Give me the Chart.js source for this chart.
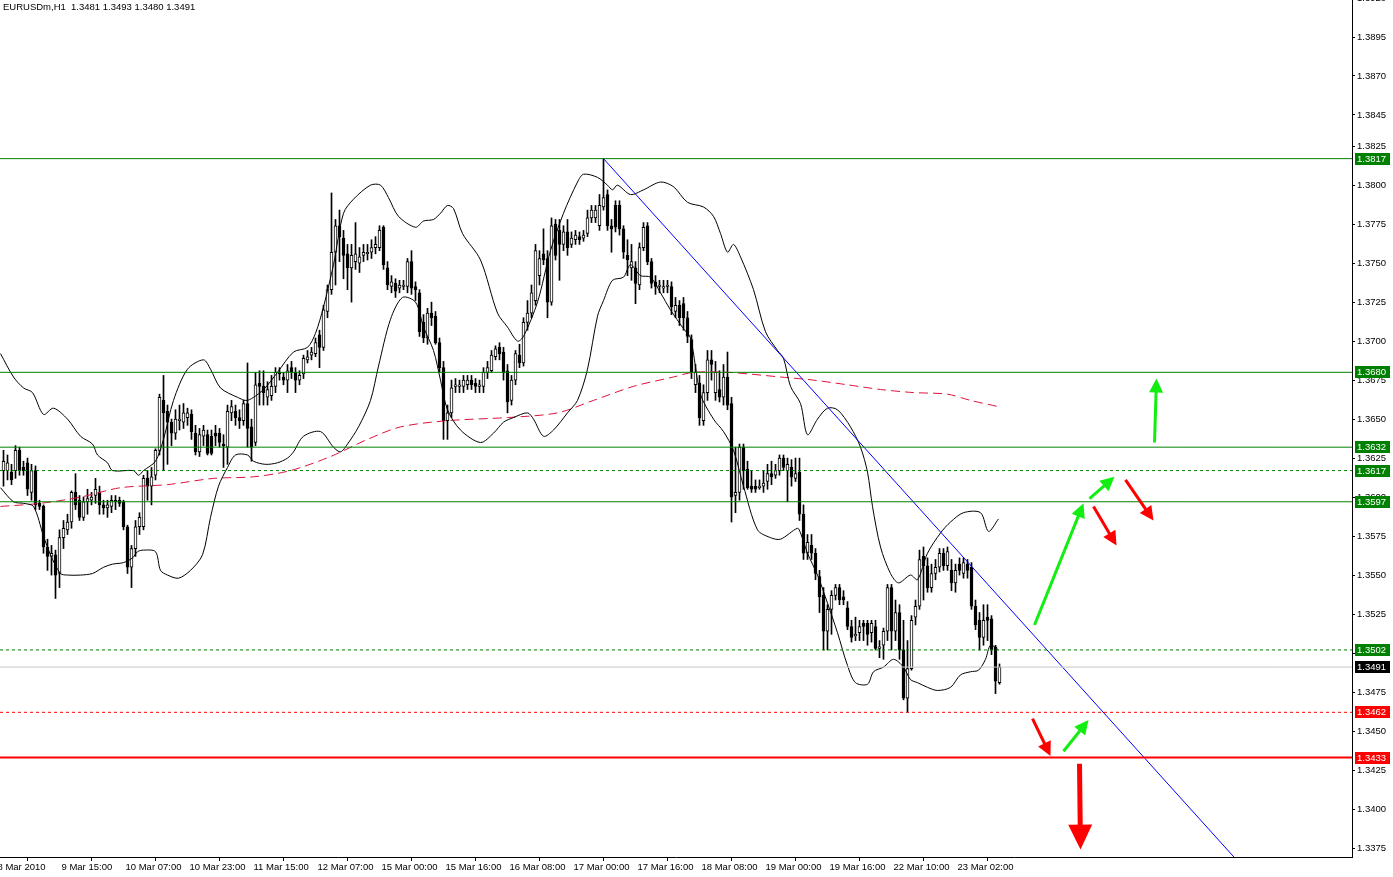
<!DOCTYPE html>
<html>
<head>
<meta charset="utf-8">
<title>EURUSDm,H1</title>
<script src="https://cdn.jsdelivr.net/npm/chart.js@4.4.1/dist/chart.umd.min.js"></script>
<style>
  html, body { margin: 0; padding: 0; background: #fff; }
  canvas { display: block; }
</style>
</head>
<body>
<canvas id="priceChart" width="1393" height="877"></canvas>
<script>
const symbol = 'EURUSDm';
const timeframe = 'H1';

// hourly candles, oldest first (bar index 0..249)
const opens = [
  1.3617,1.3617,1.3616,1.3617,1.3630,1.3619,1.3622,1.3603,1.3617,1.3596,
  1.3594,1.3568,1.3562,1.3563,1.3551,1.3574,1.3579,1.3584,1.3603,1.3598,
  1.3587,1.3597,1.3598,1.3601,1.3603,1.3595,1.3593,1.3594,1.3598,1.3598,
  1.3597,1.3581,1.3555,1.3567,1.3581,1.3581,1.3612,1.3607,1.3614,1.3630,
  1.3662,1.3655,1.3648,1.3641,1.3649,1.3648,1.3651,1.3653,1.3641,1.3629,
  1.3639,1.3640,1.3639,1.3641,1.3641,1.3634,1.3632,1.3654,1.3655,1.3651,
  1.3649,1.3660,1.3645,1.3635,1.3673,1.3671,1.3664,1.3665,1.3671,1.3680,
  1.3677,1.3675,1.3683,1.3680,1.3675,1.3679,1.3688,1.3691,1.3692,1.3704,
  1.3696,1.3719,1.3733,1.3757,1.3774,1.3766,1.3756,1.3747,1.3751,1.3750,
  1.3755,1.3756,1.3757,1.3760,1.3760,1.3773,1.3747,1.3735,1.3737,1.3734,
  1.3735,1.3735,1.3751,1.3735,1.3731,1.3712,1.3702,1.3718,1.3716,1.3699,
  1.3683,1.3649,1.3654,1.3671,1.3671,1.3671,1.3672,1.3675,1.3673,1.3671,
  1.3671,1.3680,1.3681,1.3690,1.3696,1.3693,1.3681,1.3662,1.3675,1.3691,
  1.3686,1.3712,1.3718,1.3726,1.3742,1.3756,1.3753,1.3725,1.3775,1.3771,
  1.3762,1.3770,1.3762,1.3765,1.3767,1.3766,1.3769,1.3779,1.3779,1.3774,
  1.3786,1.3794,1.3774,1.3787,1.3787,1.3772,1.3755,1.3747,1.3747,1.3736,
  1.3760,1.3774,1.3751,1.3738,1.3735,1.3734,1.3735,1.3735,1.3719,1.3723,
  1.3724,1.3715,1.3701,1.3672,1.3673,1.3649,1.3667,1.3688,1.3667,1.3669,
  1.3664,1.3677,1.3660,1.3601,1.3603,1.3632,1.3618,1.3607,1.3607,1.3606,
  1.3607,1.3610,1.3615,1.3614,1.3617,1.3625,1.3617,1.3619,1.3612,1.3616,
  1.3589,1.3564,1.3569,1.3564,1.3549,1.3537,1.3514,1.3528,1.3537,1.3542,
  1.3536,1.3529,1.3517,1.3511,1.3513,1.3519,1.3519,1.3513,1.3517,1.3503,
  1.3505,1.3514,1.3542,1.3514,1.3526,1.3502,1.3471,1.3490,1.3523,1.3530,
  1.3562,1.3556,1.3542,1.3551,1.3555,1.3564,1.3556,1.3553,1.3545,1.3557,
  1.3551,1.3557,1.3555,1.3530,1.3521,1.3510,1.3523,1.3522,1.3504,1.3481
];
const highs = [
  1.3630,1.3627,1.3621,1.3633,1.3632,1.3623,1.3625,1.3621,1.3620,1.3598,
  1.3595,1.3573,1.3569,1.3566,1.3579,1.3585,1.3589,1.3604,1.3615,1.3601,
  1.3600,1.3605,1.3603,1.3612,1.3607,1.3598,1.3598,1.3601,1.3601,1.3600,
  1.3598,1.3582,1.3569,1.3585,1.3590,1.3614,1.3617,1.3619,1.3631,1.3666,
  1.3678,1.3659,1.3650,1.3656,1.3659,1.3660,1.3657,1.3656,1.3646,1.3644,
  1.3646,1.3643,1.3643,1.3646,1.3644,1.3640,1.3659,1.3662,1.3659,1.3656,
  1.3662,1.3686,1.3650,1.3680,1.3681,1.3681,1.3674,1.3678,1.3683,1.3683,
  1.3680,1.3685,1.3687,1.3683,1.3681,1.3691,1.3694,1.3696,1.3702,1.3707,
  1.3723,1.3736,1.3795,1.3778,1.3784,1.3771,1.3762,1.3762,1.3776,1.3760,
  1.3762,1.3762,1.3765,1.3767,1.3774,1.3774,1.3751,1.3742,1.3740,1.3739,
  1.3739,1.3753,1.3758,1.3738,1.3733,1.3717,1.3721,1.3725,1.3719,1.3702,
  1.3687,1.3659,1.3675,1.3676,1.3675,1.3678,1.3678,1.3678,1.3676,1.3675,
  1.3683,1.3687,1.3694,1.3697,1.3699,1.3696,1.3685,1.3678,1.3694,1.3698,
  1.3715,1.3726,1.3736,1.3762,1.3758,1.3772,1.3758,1.3779,1.3778,1.3778,
  1.3774,1.3778,1.3770,1.3771,1.3770,1.3771,1.3784,1.3787,1.3787,1.3794,
  1.3817,1.3797,1.3778,1.3790,1.3790,1.3774,1.3765,1.3762,1.3751,1.3763,
  1.3776,1.3776,1.3753,1.3742,1.3739,1.3739,1.3739,1.3738,1.3728,1.3726,
  1.3728,1.3719,1.3704,1.3685,1.3678,1.3672,1.3694,1.3694,1.3687,1.3681,
  1.3685,1.3693,1.3664,1.3632,1.3634,1.3634,1.3623,1.3617,1.3611,1.3611,
  1.3617,1.3621,1.3623,1.3621,1.3627,1.3627,1.3625,1.3624,1.3625,1.3625,
  1.3595,1.3576,1.3576,1.3567,1.3553,1.3542,1.3531,1.3540,1.3544,1.3544,
  1.3540,1.3533,1.3521,1.3523,1.3521,1.3521,1.3521,1.3521,1.3521,1.3508,
  1.3516,1.3544,1.3544,1.3534,1.3531,1.3521,1.3508,1.3524,1.3534,1.3566,
  1.3568,1.3561,1.3557,1.3560,1.3567,1.3567,1.3568,1.3560,1.3557,1.3561,
  1.3561,1.3560,1.3558,1.3534,1.3526,1.3531,1.3531,1.3524,1.3505,1.3493
];
const lows = [
  1.3607,1.3611,1.3608,1.3612,1.3614,1.3614,1.3601,1.3598,1.3592,1.3592,
  1.3564,1.3553,1.3550,1.3535,1.3542,1.3567,1.3576,1.3580,1.3592,1.3585,
  1.3585,1.3589,1.3595,1.3596,1.3589,1.3589,1.3587,1.3590,1.3592,1.3594,
  1.3579,1.3551,1.3542,1.3562,1.3576,1.3579,1.3598,1.3595,1.3611,1.3627,
  1.3617,1.3621,1.3633,1.3637,1.3643,1.3644,1.3646,1.3637,1.3627,1.3626,
  1.3633,1.3627,1.3627,1.3633,1.3632,1.3619,1.3621,1.3649,1.3646,1.3644,
  1.3646,1.3632,1.3623,1.3633,1.3659,1.3659,1.3659,1.3662,1.3667,1.3675,
  1.3672,1.3667,1.3676,1.3667,1.3672,1.3676,1.3686,1.3688,1.3690,1.3683,
  1.3694,1.3715,1.3730,1.3736,1.3751,1.3740,1.3733,1.3725,1.3746,1.3744,
  1.3751,1.3752,1.3753,1.3756,1.3758,1.3746,1.3733,1.3731,1.3728,1.3731,
  1.3733,1.3731,1.3730,1.3726,1.3703,1.3699,1.3698,1.3710,1.3698,1.3680,
  1.3637,1.3637,1.3651,1.3667,1.3667,1.3667,1.3669,1.3669,1.3667,1.3667,
  1.3667,1.3676,1.3680,1.3688,1.3688,1.3675,1.3654,1.3659,1.3672,1.3683,
  1.3684,1.3707,1.3715,1.3723,1.3736,1.3749,1.3715,1.3723,1.3752,1.3739,
  1.3758,1.3755,1.3760,1.3762,1.3762,1.3764,1.3767,1.3776,1.3776,1.3771,
  1.3784,1.3771,1.3757,1.3770,1.3768,1.3753,1.3742,1.3739,1.3724,1.3733,
  1.3758,1.3749,1.3734,1.3730,1.3731,1.3731,1.3731,1.3717,1.3715,1.3710,
  1.3707,1.3699,1.3676,1.3667,1.3646,1.3646,1.3662,1.3675,1.3662,1.3661,
  1.3659,1.3656,1.3584,1.3590,1.3598,1.3605,1.3605,1.3603,1.3603,1.3605,
  1.3603,1.3605,1.3608,1.3612,1.3614,1.3617,1.3597,1.3607,1.3610,1.3585,
  1.3560,1.3560,1.3560,1.3547,1.3526,1.3502,1.3502,1.3512,1.3534,1.3531,
  1.3531,1.3515,1.3507,1.3508,1.3508,1.3508,1.3505,1.3507,1.3502,1.3497,
  1.3496,1.3508,1.3502,1.3508,1.3496,1.3470,1.3462,1.3489,1.3518,1.3528,
  1.3534,1.3539,1.3539,1.3547,1.3552,1.3553,1.3553,1.3540,1.3539,1.3550,
  1.3548,1.3548,1.3528,1.3515,1.3502,1.3505,1.3508,1.3499,1.3474,1.3480
];
const closes = [
  1.3623,1.3622,1.3611,1.3630,1.3617,1.3617,1.3605,1.3617,1.3595,1.3594,
  1.3568,1.3562,1.3564,1.3550,1.3574,1.3580,1.3584,1.3603,1.3595,1.3587,
  1.3597,1.3599,1.3600,1.3605,1.3595,1.3593,1.3595,1.3598,1.3597,1.3596,
  1.3581,1.3555,1.3567,1.3581,1.3587,1.3612,1.3607,1.3613,1.3630,1.3664,
  1.3654,1.3648,1.3641,1.3650,1.3650,1.3654,1.3654,1.3642,1.3629,1.3640,
  1.3643,1.3628,1.3628,1.3639,1.3635,1.3633,1.3655,1.3658,1.3651,1.3649,
  1.3660,1.3644,1.3632,1.3672,1.3671,1.3667,1.3669,1.3671,1.3680,1.3679,
  1.3675,1.3681,1.3680,1.3675,1.3678,1.3689,1.3690,1.3693,1.3699,1.3696,
  1.3720,1.3733,1.3757,1.3774,1.3767,1.3755,1.3747,1.3755,1.3756,1.3754,
  1.3757,1.3757,1.3760,1.3762,1.3771,1.3749,1.3736,1.3738,1.3732,1.3736,
  1.3736,1.3751,1.3734,1.3733,1.3706,1.3702,1.3718,1.3715,1.3699,1.3683,
  1.3649,1.3654,1.3670,1.3672,1.3672,1.3675,1.3675,1.3672,1.3671,1.3672,
  1.3680,1.3683,1.3691,1.3695,1.3692,1.3680,1.3661,1.3675,1.3692,1.3686,
  1.3712,1.3718,1.3731,1.3758,1.3753,1.3752,1.3725,1.3774,1.3755,1.3762,
  1.3770,1.3760,1.3766,1.3768,1.3765,1.3768,1.3779,1.3784,1.3784,1.3787,
  1.3792,1.3774,1.3772,1.3773,1.3772,1.3757,1.3752,1.3751,1.3737,1.3760,
  1.3773,1.3751,1.3737,1.3735,1.3736,1.3735,1.3736,1.3722,1.3723,1.3715,
  1.3715,1.3703,1.3680,1.3680,1.3651,1.3667,1.3688,1.3685,1.3680,1.3664,
  1.3677,1.3659,1.3600,1.3603,1.3632,1.3617,1.3606,1.3605,1.3605,1.3607,
  1.3609,1.3615,1.3613,1.3617,1.3625,1.3619,1.3621,1.3613,1.3615,1.3589,
  1.3564,1.3571,1.3564,1.3551,1.3536,1.3514,1.3528,1.3537,1.3542,1.3534,
  1.3534,1.3517,1.3510,1.3512,1.3517,1.3517,1.3512,1.3519,1.3503,1.3504,
  1.3514,1.3542,1.3514,1.3526,1.3502,1.3471,1.3490,1.3521,1.3530,1.3560,
  1.3556,1.3542,1.3551,1.3555,1.3564,1.3556,1.3565,1.3545,1.3553,1.3553,
  1.3558,1.3553,1.3530,1.3518,1.3510,1.3521,1.3521,1.3502,1.3482,1.3491
];

// Bollinger bands and moving average, read at [bar index, price]
const upperBand = [
  [-0.75,1.3692],[2.5,1.3677],[5,1.3670],[7.25,1.3667],[10,1.3653],[12.5,1.3657],[16,1.3650],
  [19.25,1.3639],[22.25,1.3634],[23.5,1.3627],[26,1.3622],[27.25,1.3617],[32.5,1.3617],[33.75,1.3614],
  [35,1.3617],[38,1.3623],[40,1.3637],[42.5,1.3662],[46,1.3682],[50,1.3688],[51.75,1.3682],
  [54.25,1.3670],[58.5,1.3664],[61,1.3662],[65,1.3669],[68.5,1.3680],[72.5,1.3693],[76,1.3696],
  [78,1.3705],[80,1.3722],[82.5,1.3749],[85,1.3782],[87.5,1.3791],[91.75,1.3800],[94.25,1.3800],
  [96.25,1.3792],[98.75,1.3780],[103,1.3773],[105,1.3777],[107.5,1.3778],[109.25,1.3782],[111,1.3787],
  [112.5,1.3785],[114.75,1.3769],[119.25,1.3752],[123.5,1.3718],[126,1.3709],[128.5,1.3700],[130,1.3703],
  [133.5,1.3725],[136.75,1.3758],[140,1.3782],[143.5,1.3802],[145,1.3807],[148.5,1.3805],[151,1.3800],
  [152.25,1.3797],[153.5,1.3800],[156.75,1.3794],[160,1.3797],[164.25,1.3802],[167.5,1.3799],[171,1.3789],
  [175,1.3786],[177.5,1.3780],[179.25,1.3769],[181,1.3757],[182.5,1.3762],[184.25,1.3754],[187.5,1.3733],
  [190.5,1.3706],[193.5,1.3694],[195,1.3689],[196.75,1.3671],[199.25,1.3660],[201,1.3640],[203.5,1.3650],
  [206,1.3657],[208.5,1.3656],[211.75,1.3645],[214.25,1.3632],[216,1.3616],[217.25,1.3594],[219.25,1.3568],
  [221.75,1.3551],[223.75,1.3545],[226.75,1.3550],[228.5,1.3547],[231,1.3564],[234.25,1.3577],[236.75,1.3584],
  [240,1.3590],[244.25,1.3590],[246.25,1.3578],[248.75,1.3586]
];
const lowerBand = [
  [-0.75,1.3606],[2.5,1.3597],[5,1.3596],[7.5,1.3594],[10,1.3575],[11.75,1.3563],[14.25,1.3551],
  [16,1.3550],[19.25,1.3550],[22.25,1.3551],[25,1.3555],[27.25,1.3557],[30,1.3558],[32.25,1.3561],
  [33.5,1.3565],[35,1.3566],[38,1.3565],[39.25,1.3553],[41,1.3550],[43.75,1.3548],[46.75,1.3553],
  [49.75,1.3563],[51.75,1.3587],[53.75,1.3607],[56,1.3619],[58,1.3627],[61,1.3627],[62.5,1.3623],
  [65.5,1.3621],[68.5,1.3622],[71,1.3625],[72.5,1.3629],[75,1.3639],[79.25,1.3642],[82.5,1.3632],
  [84.25,1.3629],[86,1.3634],[88.75,1.3645],[91.75,1.3662],[93.75,1.3684],[96.75,1.3714],[99.75,1.3728],
  [103,1.3725],[105,1.3709],[107.5,1.3694],[109.25,1.3675],[111,1.3656],[114.25,1.3643],[119.25,1.3635],
  [122.5,1.3641],[125,1.3648],[127.5,1.3651],[131,1.3654],[132.5,1.3650],[135,1.3639],[137.5,1.3643],
  [141,1.3654],[143.5,1.3662],[146,1.3682],[148.5,1.3716],[150,1.3726],[152.25,1.3739],[155,1.3741],
  [156.75,1.3749],[159.25,1.3742],[161.75,1.3741],[164.25,1.3731],[166.75,1.3720],[170,1.3708],[171.75,1.3702],
  [174.25,1.3666],[177.5,1.3650],[180,1.3642],[182.5,1.3630],[185,1.3607],[188.5,1.3579],[191.75,1.3574],
  [194.25,1.3573],[198.5,1.3580],[199.25,1.3577],[201,1.3564],[203.5,1.3550],[206,1.3532],[208.5,1.3513],
  [211,1.3492],[213,1.3481],[216,1.3480],[217.5,1.3488],[220,1.3491],[222.5,1.3496],[225,1.3491],
  [226.75,1.3483],[228.5,1.3481],[231,1.3478],[233.5,1.3476],[236.75,1.3478],[239.25,1.3486],[241.75,1.3488],
  [243.75,1.3489],[245.5,1.3496],[246.75,1.3505],[248.75,1.3502]
];
const movingAverage = [
  [-0.75,1.3594],[9.25,1.3596],[19.25,1.3600],[29.25,1.3606],[41,1.3608],[52.5,1.3612],[62.5,1.3613],
  [71.75,1.3617],[81.75,1.3626],[91,1.3637],[99.25,1.3645],[111,1.3649],[126,1.3651],[138.5,1.3654],
  [147.5,1.3662],[157.5,1.3671],[167.5,1.3677],[172.5,1.3680],[181,1.3680],[194.25,1.3677],[202.5,1.3675],
  [211,1.3672],[219.25,1.3669],[227.5,1.3667],[236,1.3666],[241.75,1.3662],[248.75,1.3658]
];

// drawn objects
const greenLevels = [1.3817, 1.3680, 1.3632, 1.3597];
const greenDashedLevels = [1.3617, 1.3502];
const redDashedLevels = [1.3462];
const redLevels = [1.3433];
const trendLine = [[150, 1.3817], [320, 1.3334]];
const upArrows = [
  [257.75, 1.3518, 270, 1.3596],
  [271.5, 1.3599, 277.75, 1.3613],
  [287.75, 1.3635, 288.25, 1.3676],
  [265, 1.3437, 271.25, 1.3457]
];
const downArrows = [
  [272.5, 1.3594, 278.25, 1.3569],
  [280.5, 1.3611, 287.5, 1.3585],
  [257.25, 1.3458, 261.75, 1.3434]
];
const breakArrow = [269, 1.3429, 269.25, 1.3374];

// axis labels
const xTickIndex = [-2, 14, 30, 46, 62, 78, 94, 110, 126, 142, 158, 174, 190, 206, 222, 238];
const xTickLabels = ['8 Mar 2010', '9 Mar 15:00', '10 Mar 07:00', '10 Mar 23:00', '11 Mar 15:00',
  '12 Mar 07:00', '15 Mar 00:00', '15 Mar 16:00', '16 Mar 08:00', '17 Mar 00:00', '17 Mar 16:00',
  '18 Mar 08:00', '19 Mar 00:00', '19 Mar 16:00', '22 Mar 10:00', '23 Mar 02:00'];
const yTickValues = [1.3375, 1.3400, 1.3425, 1.3450, 1.3475, 1.3500, 1.3525, 1.3550, 1.3575, 1.3600,
  1.3625, 1.3650, 1.3675, 1.3700, 1.3725, 1.3750, 1.3775, 1.3800, 1.3825, 1.3845, 1.3870, 1.3895, 1.3920];

const X_MIN = -0.875, X_MAX = 337.125;
const Y_MIN = 1.336923, Y_MAX = 1.3918724;
const FONT = { family: 'Liberation Sans', size: 9.5 };
const GREEN = '#008000', RED = '#ff0000', LIME = '#12ee12';

const last = closes.length - 1;
const bodies = opens.map((o, i) => ({ x: i, y: [Math.min(o, closes[i]), Math.max(o, closes[i])] }));
const wicks = opens.map((o, i) => ({ x: i, y: [lows[i], highs[i]] }));
const bodyFill = opens.map((o, i) => closes[i] >= o ? '#ffffff' : '#000000');
const toPoints = arr => arr.map(([x, y]) => ({ x, y }));

function levelLine(value, color, dash, width) {
  return {
    type: 'line', data: [{ x: X_MIN, y: value }, { x: X_MAX, y: value }],
    borderColor: color, borderWidth: width, borderDash: dash,
    pointRadius: 0, order: 0
  };
}
function curve(points, color, dash) {
  return {
    type: 'line', data: toPoints(points), borderColor: color, borderWidth: 1,
    borderDash: dash, pointRadius: 0, tension: 0.3, order: 1
  };
}

const datasets = [
  levelLine(closes[last], '#c8c8c8', [], 1),
  ...greenLevels.map(v => levelLine(v, GREEN, [], 1)),
  ...greenDashedLevels.map(v => levelLine(v, GREEN, [3, 3], 1)),
  ...redDashedLevels.map(v => levelLine(v, RED, [3, 3], 1)),
  ...redLevels.map(v => levelLine(v, RED, [], 2)),
  { type: 'line', data: toPoints(trendLine), borderColor: '#0000ff', borderWidth: 1, pointRadius: 0, order: 0 },
  curve(upperBand, '#000000', []),
  curve(lowerBand, '#000000', []),
  curve(movingAverage, '#dc143c', [9, 5]),
  {
    type: 'bar', data: bodies, backgroundColor: bodyFill, borderColor: '#000', borderWidth: 1,
    borderSkipped: false, barThickness: 3, minBarLength: 1, grouped: false, order: 2
  },
  {
    type: 'bar', data: wicks, backgroundColor: '#000', borderWidth: 0,
    barThickness: 1, grouped: false, order: 3
  }
];

function drawArrow(ctx, x1, y1, x2, y2, color, shaft, headLen, headHalf) {
  const a = Math.atan2(y2 - y1, x2 - x1);
  const bx = x2 - headLen * Math.cos(a), by = y2 - headLen * Math.sin(a);
  ctx.strokeStyle = color;
  ctx.lineWidth = shaft;
  ctx.lineCap = 'butt';
  ctx.beginPath();
  ctx.moveTo(x1, y1);
  ctx.lineTo(bx + Math.cos(a), by + Math.sin(a));
  ctx.stroke();
  ctx.fillStyle = color;
  ctx.beginPath();
  ctx.moveTo(x2, y2);
  ctx.lineTo(bx + headHalf * Math.sin(a), by - headHalf * Math.cos(a));
  ctx.lineTo(bx - headHalf * Math.sin(a), by + headHalf * Math.cos(a));
  ctx.closePath();
  ctx.fill();
}

const overlays = {
  id: 'overlays',
  afterDatasetsDraw(chart) {
    const { ctx, scales: { x, y } } = chart;
    const px = (i, p) => [x.getPixelForValue(i), y.getPixelForValue(p)];
    ctx.save();
    upArrows.forEach(([i1, p1, i2, p2]) => drawArrow(ctx, ...px(i1, p1), ...px(i2, p2), LIME, 3, 14, 7));
    downArrows.forEach(([i1, p1, i2, p2]) => drawArrow(ctx, ...px(i1, p1), ...px(i2, p2), RED, 3, 14, 7));
    drawArrow(ctx, ...px(breakArrow[0], breakArrow[1]), ...px(breakArrow[2], breakArrow[3]), RED, 5, 25, 12);
    ctx.restore();
  },
  afterDraw(chart) {
    const { ctx, chartArea, scales: { y } } = chart;
    ctx.save();
    ctx.font = '9.5px "Liberation Sans"';
    ctx.textBaseline = 'middle';
    ctx.textAlign = 'left';
    ctx.fillStyle = '#000';
    ctx.fillText(`${symbol},${timeframe}  ${opens[last].toFixed(4)} ${highs[last].toFixed(4)} ${lows[last].toFixed(4)} ${closes[last].toFixed(4)}`, 3, 7);

    const tags = [
      ...greenLevels.map(v => [v, GREEN]),
      ...greenDashedLevels.map(v => [v, GREEN]),
      [closes[last], '#000000'],
      ...redDashedLevels.map(v => [v, RED]),
      ...redLevels.map(v => [v, RED])
    ];
    tags.forEach(([v, color]) => {
      const py = Math.round(y.getPixelForValue(v));
      ctx.fillStyle = color;
      ctx.fillRect(chartArea.right + 3, py - 6, 35, 12);
      ctx.fillStyle = '#fff';
      ctx.fillText(v.toFixed(4), chartArea.right + 5, py);
    });
    ctx.restore();
  }
};

new Chart(document.getElementById('priceChart').getContext('2d'), {
  type: 'bar',
  data: { datasets },
  options: {
    responsive: false,
    animation: false,
    events: [],
    devicePixelRatio: 1,
    layout: { padding: 0 },
    plugins: { legend: { display: false }, tooltip: { enabled: false } },
    scales: {
      x: {
        type: 'linear', min: X_MIN, max: X_MAX, offset: false,
        grid: { drawOnChartArea: false, drawTicks: true, tickLength: 4, color: '#000' },
        border: { display: true, color: '#000', width: 1 },
        afterBuildTicks: s => { s.ticks = xTickIndex.map(v => ({ value: v })); },
        afterFit: s => { s.height = 20; s.paddingLeft = 0; s.paddingRight = 0; },
        ticks: {
          autoSkip: false, maxRotation: 0, minRotation: 0, align: 'start', labelOffset: 2,
          padding: 1, color: '#000', font: FONT,
          callback: (v, i) => xTickLabels[i]
        }
      },
      y: {
        type: 'linear', position: 'right', min: Y_MIN, max: Y_MAX,
        grid: { drawOnChartArea: false, drawTicks: true, tickLength: 3, color: '#000' },
        border: { display: true, color: '#000', width: 1 },
        afterBuildTicks: s => { s.ticks = yTickValues.map(v => ({ value: v })); },
        afterFit: s => { s.width = 41; s.paddingTop = 0; s.paddingBottom = 0; },
        ticks: { autoSkip: false, padding: 2, color: '#000', font: FONT, callback: v => v.toFixed(4) }
      }
    }
  },
  plugins: [overlays]
});
</script>
</body>
</html>
